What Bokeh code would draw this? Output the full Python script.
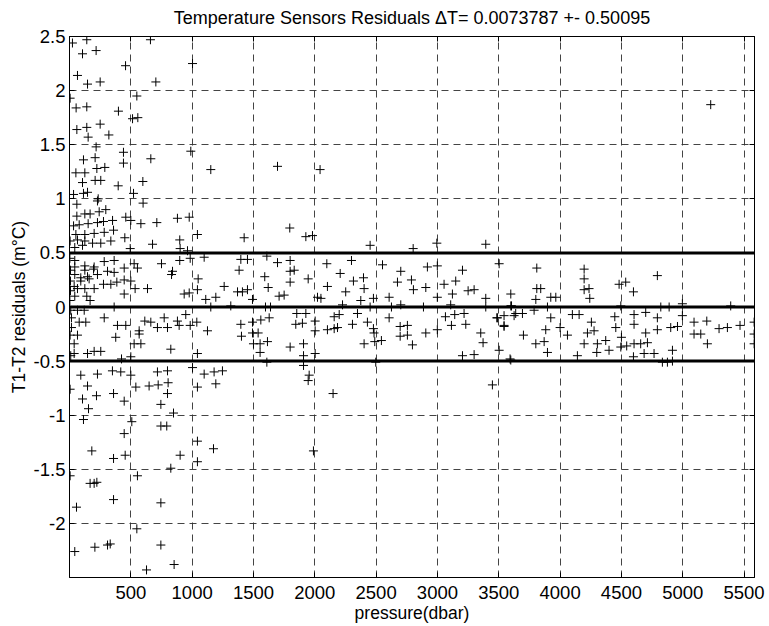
from bokeh.plotting import figure
from bokeh.models import Range1d, FixedTicker, CustomJSTickFormatter, LinearAxis, Span, CustomLabelingPolicy
from bokeh.embed import file_html
from bokeh.resources import INLINE

pressure = [24,141,106,217,457,660,1003,65,147,250,704,5,54,141,549,399,514,557,60,141,250,152,321,217,440,989,663,114,209,440,1152,52,125,223,288,598,106,209,255,397,33,114,147,234,522,
1696,2043,5228,
60,228,600,60,125,168,242,296,459,500,582,712,880,976,33,79,152,228,277,351,52,125,201,283,359,5,65,125,188,255,337,451,677,899,1043,1424,43,106,495,902,962,
3,43,43,8,43,8,38,8,43,3,125,201,283,364,125,196,92,147,228,310,364,446,527,554,92,160,277,337,386,446,500,65,125,201,141,168,446,535,636,364,750,840,832,1049,899,984,1098,935,976,1043,1111,1193,1261,1152,1315,
10,65,120,16,79,133,283,459,391,16,5,65,38,568,568,614,663,377,527,582,717,772,799,826,894,948,984,1038,1125,38,10,147,201,255,424,500,1043,880,
92,228,350,418,500,717,799,1003,1098,1179,1247,
5,147,541,649,723,804,1043,1193,106,220,359,446,799,745,155,114,508,848,745,793,446,1043,1174,182,902,359,454,1043,826,5,554,168,201,223,359,745,57,549,43,207,310,332,745,853,628,
1796,1927,1981,2451,2802,2995,3394,
1397,1451,1609,1383,1696,1799,1832,1799,2098,2299,2552,1592,1620,1799,1946,2207,2315,2397,2402,2103,2701,2674,2788,2804,2905,2918,2999,3204,3054,3149,3250,3299,3122,2999,3394,3503,1370,1410,1451,1492,1709,1750,2022,2050,2252,2375,2478,2606,1598,1639,2226,2451,2625,2701,2886,3108,3394,3598,
1397,1492,1560,1628,1853,1927,1845,1899,2003,2003,2103,2158,2185,2158,2199,2307,2348,2429,2478,2483,2606,2696,2755,2696,2755,2905,2999,3065,3141,3217,3114,3231,3353,3372,3484,3543,3625,1402,1492,1538,1500,1554,1614,1554,1799,1908,1908,2003,2402,2489,2543,2796,3204,3299,1609,2497,3598,1908,1954,3503,
2149,1989,3448,1946,
3810,4196,4196,4196,3810,3842,3802,3788,3924,3965,4236,4242,4481,4535,4598,4793,3598,3604,3897,4495,4997,5391,4821,4889,
3489,3543,3638,3693,3543,3924,3883,3870,3802,3897,3701,4000,4060,4100,4155,4255,4223,4277,4196,4141,4304,4372,4299,4399,4446,4454,4500,4495,4543,4603,4657,4712,4598,4603,4603,4698,4698,4685,4766,4793,4793,4834,4875,4916,4916,4902,4957,4997,5092,5092,5147,5196,5201,5296,5364,5467,5582,5582,5582,3592]

residual = [2.44,2.47,2.34,2.37,2.23,2.47,2.25,2.14,2.06,2.08,2.08,1.93,1.84,1.85,1.95,1.81,1.74,1.75,1.64,1.66,1.69,1.57,1.59,1.48,1.43,1.44,1.37,1.36,1.38,1.33,1.27,1.24,1.24,1.28,1.29,1.16,1.15,1.17,1.17,1.12,1.04,1.05,1.06,1.00,1.05,
1.30,1.27,1.87,
0.95,0.98,0.96,0.84,0.86,0.86,0.88,0.90,0.83,0.80,0.77,0.78,0.82,0.83,0.75,0.76,0.77,0.78,0.79,0.80,0.67,0.67,0.68,0.69,0.71,0.61,0.62,0.61,0.59,0.59,0.61,0.64,0.58,0.62,0.67,0.64,0.55,0.57,0.54,0.54,0.52,
0.45,0.43,0.37,0.34,0.30,0.24,0.19,0.15,0.10,0.06,0.38,0.37,0.42,0.43,0.34,0.35,0.27,0.28,0.30,0.33,0.32,0.36,0.40,0.36,0.24,0.26,0.21,0.21,0.23,0.25,0.24,0.17,0.17,0.17,0.10,0.06,0.12,0.17,0.17,0.00,0.40,0.33,0.30,0.26,0.43,0.45,0.46,0.12,0.13,0.16,0.07,0.09,0.19,0.00,0.01,
-0.03,-0.03,-0.03,-0.10,-0.14,-0.14,-0.10,-0.17,-0.17,-0.19,-0.26,-0.26,-0.34,-0.22,-0.25,-0.13,-0.14,-0.28,-0.34,-0.34,-0.19,-0.10,-0.19,-0.39,-0.17,-0.07,-0.17,-0.14,-0.22,-0.43,-0.45,-0.43,-0.41,-0.41,-0.48,-0.46,-0.43,-0.13,
-0.63,-0.62,-0.59,-0.60,-0.63,-0.60,-0.59,-0.56,-0.62,-0.60,-0.59,
-0.76,-0.73,-0.74,-0.73,-0.72,-0.70,-0.74,-0.71,-0.85,-0.82,-0.80,-0.87,-0.80,-0.90,-0.94,-1.04,-1.06,-0.98,-1.10,-1.10,-1.17,-1.24,-1.31,-1.33,-1.37,-1.40,-1.37,-1.43,-1.49,-1.56,-1.56,-1.63,-1.63,-1.62,-1.78,-1.81,-1.85,-2.05,-2.26,-2.22,-2.20,-2.19,-2.20,-2.38,-2.43,
0.73,0.65,0.66,0.57,0.54,0.59,0.58,
0.44,0.44,0.47,0.34,0.41,0.43,0.34,0.33,0.40,0.43,0.39,0.28,0.18,0.23,0.26,0.31,0.24,0.27,0.17,0.19,0.33,0.23,0.25,0.16,0.18,0.37,0.38,0.34,0.21,0.24,0.15,0.16,0.12,0.09,0.08,0.40,0.14,0.14,0.16,0.07,0.10,0.11,0.09,0.08,0.14,0.06,0.08,0.09,0.00,0.00,0.02,0.00,0.00,0.02,0.00,0.02,0.00,0.01,
-0.16,-0.14,-0.12,-0.10,-0.06,-0.06,-0.16,-0.15,-0.13,-0.22,-0.21,-0.20,-0.19,-0.09,-0.07,-0.16,-0.06,-0.14,-0.20,-0.24,-0.10,-0.18,-0.17,-0.27,-0.26,-0.24,-0.21,-0.09,-0.07,-0.06,-0.17,-0.16,-0.24,-0.33,-0.10,-0.17,-0.08,-0.27,-0.24,-0.24,-0.34,-0.34,-0.32,-0.42,-0.37,-0.34,-0.45,-0.43,-0.34,-0.32,-0.31,-0.35,-0.45,-0.44,-0.51,-0.51,-0.49,-0.54,-0.63,-0.40,
-0.80,-1.33,-0.72,-0.68,
0.36,0.35,0.26,0.16,0.17,0.17,0.07,-0.03,0.09,0.09,0.17,0.08,0.21,0.23,0.14,0.29,0.12,0.01,0.00,0.01,0.03,0.01,0.00,0.00,
-0.10,-0.08,-0.06,-0.06,-0.18,-0.10,-0.21,-0.32,-0.34,-0.42,-0.26,-0.19,-0.26,-0.07,-0.07,-0.14,-0.24,-0.22,-0.34,-0.45,-0.34,-0.31,-0.42,-0.40,-0.09,-0.19,-0.28,-0.37,-0.36,-0.34,-0.34,-0.33,-0.46,-0.07,-0.16,-0.05,-0.24,-0.43,-0.43,-0.10,-0.21,-0.51,-0.51,-0.50,-0.40,-0.19,-0.18,-0.08,-0.14,-0.25,-0.25,-0.13,-0.34,-0.20,-0.19,-0.17,-0.14,-0.25,-0.34,-0.48]

band_levels = [0.5, 0.0, -0.5]
x_ticks = [500, 1000, 1500, 2000, 2500, 3000, 3500, 4000, 4500, 5000, 5500]
y_ticks = [-2, -1.5, -1, -0.5, 0, 0.5, 1, 1.5, 2, 2.5]

FONT = "Liberation Sans"
TICK_FS = "18.5px"
LABEL_FS = "17.5px"

p = figure(frame_width=685, frame_height=541, output_backend="svg", toolbar_location=None,
           x_range=Range1d(0, 5585), y_range=Range1d(-2.5, 2.5),
           min_border_left=69, min_border_right=12, min_border_top=30, min_border_bottom=10,
           title="Temperature Sensors Residuals \u0394T= 0.0073787 +- 0.50095")
p.title.align = "center"
p.title.text_font = FONT
p.title.text_font_size = "18px"
p.title.text_font_style = "normal"
p.title.text_color = "black"
p.title.offset = 6
p.title.standoff = 10

fmt = CustomJSTickFormatter(code="return tick.toString();")
for ax, ticks in ((p.xaxis[0], x_ticks), (p.yaxis[0], y_ticks)):
    ax.ticker = FixedTicker(ticks=ticks)
    ax.formatter = fmt
    ax.major_label_text_font = FONT
    ax.major_label_text_font_size = TICK_FS
    ax.major_label_text_color = "black"
    ax.axis_label_text_font = FONT
    ax.axis_label_text_font_size = LABEL_FS
    ax.axis_label_text_font_style = "normal"
    ax.axis_label_text_color = "black"
    ax.major_tick_in = 5
    ax.major_tick_out = 0
    ax.minor_tick_line_color = None
    ax.axis_line_color = "black"
    ax.major_tick_line_color = "black"
p.xaxis.major_label_standoff = 8
p.yaxis.major_label_standoff = 4
p.xaxis.axis_label = "pressure(dbar)"
p.yaxis.axis_label = "T1-T2 residuals (m\u00b0C)"
p.xaxis.axis_label_standoff = 1
p.yaxis.axis_label_standoff = 2

no_labels = CustomLabelingPolicy(code="for (const i of Array.from(indices)) indices.unset(i); return indices;")
for loc, ticks in (("right", y_ticks), ("above", x_ticks)):
    a = LinearAxis(ticker=FixedTicker(ticks=ticks), major_label_text_font_size="1px",
                   major_label_policy=no_labels,
                   major_tick_in=5, major_tick_out=0, minor_tick_line_color=None,
                   axis_line_color="black", major_tick_line_color="black",
                   major_label_standoff=0)
    p.add_layout(a, loc)

p.xgrid.ticker = FixedTicker(ticks=x_ticks)
p.ygrid.ticker = FixedTicker(ticks=y_ticks)
for g in (p.xgrid[0], p.ygrid[0]):
    g.grid_line_color = "#303030"
    g.grid_line_dash = "7 5"
    g.grid_line_width = 1
    g.grid_line_alpha = 0.9

p.outline_line_color = "black"
p.background_fill_color = "white"
p.border_fill_color = "white"

for lv in band_levels:
    p.add_layout(Span(location=lv, dimension="width", line_color="black", line_width=3))

p.scatter(pressure, residual, marker="cross", size=9, line_color="black", line_width=1)

open("out.html", "w").write(file_html(p, INLINE))
